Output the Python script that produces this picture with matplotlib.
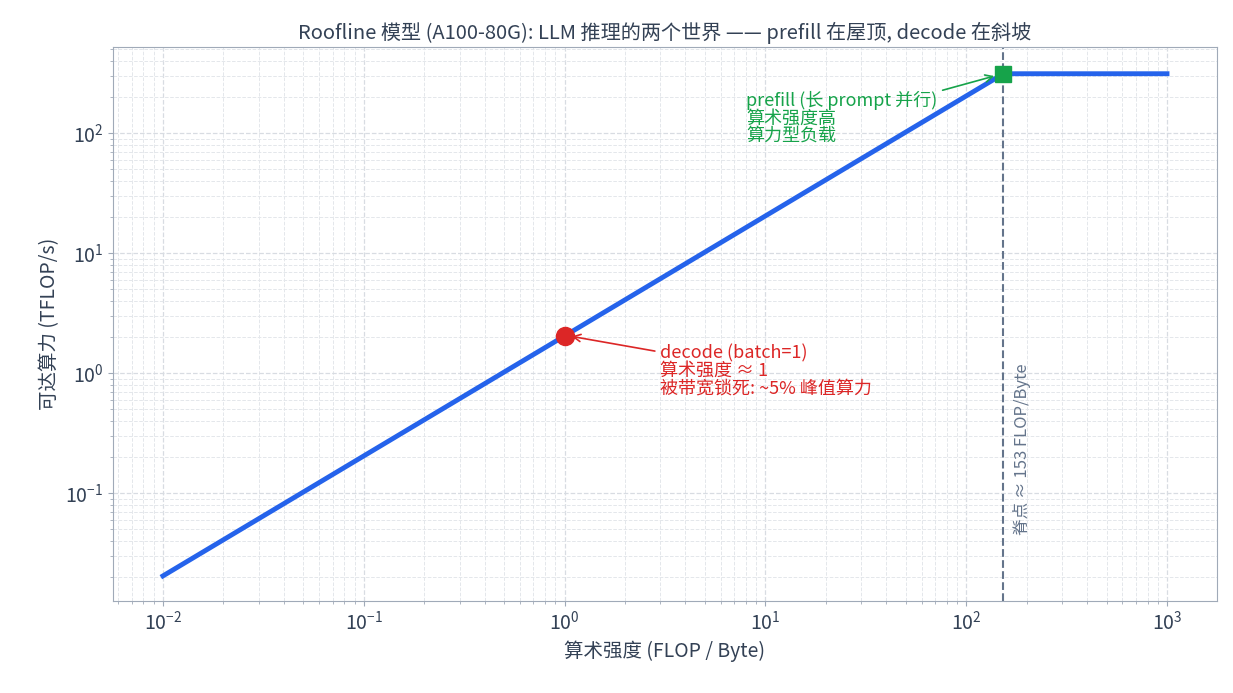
import numpy as np
import matplotlib
matplotlib.use("Agg")
import matplotlib.pyplot as plt

plt.rcParams['font.family'] = ['Noto Sans CJK SC', 'DejaVu Sans']
plt.rcParams['axes.unicode_minus'] = False

peak_tflops = 312.0
bandwidth_tbs = 2.039
ridge = peak_tflops / bandwidth_tbs
ai_range = [0.01, 1000]
decode_ai = 1.0
prefill_ai = ridge

x = np.logspace(np.log10(ai_range[0]), np.log10(ai_range[1]), 400)
y = np.minimum(peak_tflops, bandwidth_tbs * x)

fig = plt.figure(figsize=(12.33, 6.93), dpi=100)
ax = fig.add_axes([113/1233, 1-601/693, (1217-113)/1233, (601-47)/693])
spine_c = '#a0aab8'
text_c = '#334155'
ax.set_xscale('log'); ax.set_yscale('log')
ax.set_xlim(0.00564, 1774); ax.set_ylim(0.0126, 521)
ax.grid(True, which='major', ls='--', color='#d8dce2', lw=0.9)
ax.grid(True, which='minor', ls='--', color='#e4e7eb', lw=0.7)
for s in ax.spines.values():
    s.set_color(spine_c)
ax.tick_params(colors=text_c, labelsize=14, which='both')
ax.tick_params(which='both', color=spine_c)

ax.plot(x, y, color='#2563eb', lw=3.5, zorder=3)
ax.axvline(ridge, color='#64748b', ls='--', lw=1.5, zorder=2)
ax.text(ridge*1.12, 0.045, '脊点 ≈ 153 FLOP/Byte', rotation=90, color='#64748b',
        fontsize=12, va='bottom', ha='left')

dy = bandwidth_tbs * decode_ai
ax.plot([decode_ai], [dy], 'o', color='#dc2626', ms=13, zorder=4)
ax.annotate('decode (batch=1)\n算术强度 ≈ 1\n被带宽锁死: ~5% 峰值算力', xy=(decode_ai*1.05, dy),
            xytext=(3.0, 0.68), color='#dc2626', fontsize=13, linespacing=0.95,
            arrowprops=dict(arrowstyle='->', color='#dc2626', lw=1.2))
ax.plot([prefill_ai], [peak_tflops], 's', color='#16a34a', ms=12, zorder=4)
ax.annotate('prefill (长 prompt 并行)\n算术强度高\n算力型负载', xy=(prefill_ai*0.93, peak_tflops*0.97),
            xytext=(8.0, 86), color='#16a34a', fontsize=13, linespacing=0.95,
            arrowprops=dict(arrowstyle='->', color='#16a34a', lw=1.2))

ax.set_xlabel('算术强度 (FLOP / Byte)', fontsize=14, color=text_c)
ax.set_ylabel('可达算力 (TFLOP/s)', fontsize=14, color=text_c)
ax.set_title('Roofline 模型 (A100-80G): LLM 推理的两个世界 —— prefill 在屋顶, decode 在斜坡',
             fontsize=14.5, color=text_c, pad=6)
fig.savefig('out.png', dpi=100)
